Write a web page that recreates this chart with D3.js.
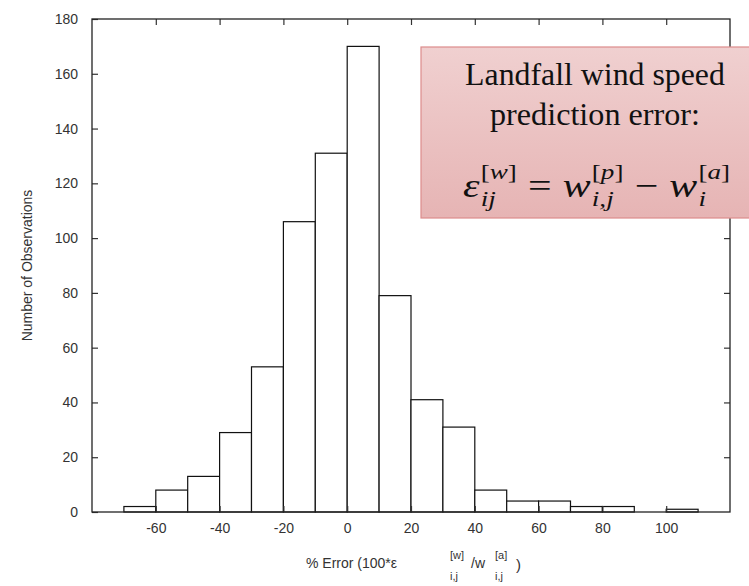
<!DOCTYPE html>
<html><head><meta charset="utf-8">
<script src="https://cdn.jsdelivr.net/npm/d3@7/dist/d3.min.js"></script>
<style>body{margin:0;background:#fff}svg{display:block}</style>
</head><body>
<svg id="c" width="749" height="586"></svg>
<script>
// ---- data ----
const binStarts = [-70,-60,-50,-40,-30,-20,-10,0,10,20,30,40,50,60,70,80,90,100];
const binWidth = 10;
const counts = [2,8,13,29,53,106,131,170,79,41,31,8,4,4,2,2,0,1];
const xTickValues = [-60,-40,-20,0,20,40,60,80,100];
const yTickValues = [0,20,40,60,80,100,120,140,160,180];
const xDomain = [-80,120];
const yDomain = [0,180];
const yTitle = "Number of Observations";
const boxLines = ["Landfall wind speed", "prediction error:"];

// ---- layout ----
const W = 749, H = 586;
const m = {left: 92, right: 19, top: 19, bottom: 74};
const svg = d3.select("#c");
const x = d3.scaleLinear().domain(xDomain).range([m.left, W - m.right]);
const y = d3.scaleLinear().domain(yDomain).range([H - m.bottom, m.top]);
const font = "'Liberation Sans', Arial, sans-serif";
const textCol = "#333";
const fmt = d => String(d);

// bars
svg.append("g").selectAll("rect").data(binStarts.map((s,i)=>({s, c: counts[i]})))
  .join("rect")
  .attr("x", d => x(d.s))
  .attr("width", d => x(d.s + binWidth) - x(d.s))
  .attr("y", d => y(d.c))
  .attr("height", d => y(0) - y(d.c))
  .attr("fill", "#fff").attr("stroke", "#111").attr("stroke-width", 1.2);

function styleAxis(g, showLabels) {
  g.select(".domain").remove();
  g.selectAll(".tick line").attr("stroke", "#333").attr("stroke-width", 1.2);
  g.selectAll(".tick text").attr("fill", textCol).style("font-family", font).style("font-size", "14px");
  if (!showLabels) g.selectAll(".tick text").remove();
}

svg.append("g").attr("transform", `translate(${m.left},0)`)
  .call(d3.axisLeft(y).tickValues(yTickValues).tickFormat(fmt).tickSizeInner(-6).tickSizeOuter(0).tickPadding(14))
  .call(g => styleAxis(g, true));
svg.append("g").attr("transform", `translate(${W - m.right},0)`)
  .call(d3.axisRight(y).tickValues(yTickValues.slice(1,-1)).tickSizeInner(-6).tickSizeOuter(0))
  .call(g => styleAxis(g, false));
svg.append("g").attr("transform", `translate(0,${H - m.bottom})`)
  .call(d3.axisBottom(x).tickValues(xTickValues).tickFormat(fmt).tickSizeInner(-6).tickSizeOuter(0).tickPadding(11))
  .call(g => styleAxis(g, true));
svg.append("g").attr("transform", `translate(0,${m.top})`)
  .call(d3.axisTop(x).tickValues(xTickValues).tickSizeInner(-6).tickSizeOuter(0))
  .call(g => styleAxis(g, false));

// frame
svg.append("rect").attr("x", m.left).attr("y", m.top)
  .attr("width", W - m.left - m.right).attr("height", H - m.top - m.bottom)
  .attr("fill", "none").attr("stroke", "#222").attr("stroke-width", 1.3);

// y title
svg.append("text").attr("transform", `translate(32,${(m.top + H - m.bottom)/2}) rotate(-90)`)
  .attr("text-anchor", "middle").attr("fill", textCol)
  .style("font-family", font).style("font-size", "14px").text(yTitle);

// x title (gnuplot-style enhanced text)
const xt = svg.append("g").attr("fill", textCol).style("font-family", font);
const xPieces = [
  {t: "% Error (100*\u03b5", x: 306, y: 568, s: 14},
  {t: "[w]", x: 450, y: 559, s: 11},
  {t: "i,j", x: 450, y: 580, s: 11},
  {t: "/w", x: 471, y: 568, s: 14},
  {t: "[a]", x: 495, y: 559, s: 11},
  {t: "i,j", x: 495, y: 580, s: 11},
  {t: ")", x: 516, y: 570, s: 15}
];
xPieces.forEach(p => xt.append("text").attr("x", p.x).attr("y", p.y).style("font-size", p.s + "px").text(p.t));

// annotation box
const defs = svg.append("defs");
const grad = defs.append("linearGradient").attr("id", "bg").attr("x1", 0).attr("y1", 0).attr("x2", 0).attr("y2", 1);
grad.append("stop").attr("offset", "0%").attr("stop-color", "#f0d0d0");
grad.append("stop").attr("offset", "100%").attr("stop-color", "#e6b4b4");
svg.append("rect").attr("x", 421).attr("y", 47).attr("width", 340).attr("height", 171)
  .attr("fill", "url(#bg)").attr("stroke", "#dc8c8c").attr("stroke-width", 1.2);

const serif = "'Liberation Serif', 'Times New Roman', serif";
const boxCx = 595;
const lineSpecs = [{w: 260, y: 85}, {w: 210, y: 125}];
boxLines.forEach((t, i) => {
  const el = svg.append("text").attr("x", boxCx).attr("y", lineSpecs[i].y).attr("text-anchor", "middle")
    .attr("fill", "#111").style("font-family", serif).style("font-size", "28px").text(t);
  const len = el.node().getComputedTextLength();
  el.style("font-size", (28 * lineSpecs[i].w / len) + "px");
});

// equation
const eq = svg.append("g").attr("fill", "#111").style("font-family", serif);
const base = 34, small = 22, baseY = 197;
const parts = [
  {b: "\u03b5", sup: "w", sub: "ij"},
  {op: "="},
  {b: "w", sup: "p", sub: "i,j"},
  {op: "\u2212"},
  {b: "w", sup: "a", sub: "i"}
];
let cx = 0;
parts.forEach(p => {
  if (p.op) {
    cx += 9;
    const t = eq.append("text").attr("x", cx).attr("y", baseY).style("font-size", base + "px").text(p.op);
    cx += t.node().getComputedTextLength() + 9;
  } else {
    const t = eq.append("text").attr("x", cx).attr("y", baseY).style("font-size", base + "px").style("font-style", "italic").text(p.b);
    cx += t.node().getComputedTextLength() + 1;
    const s1 = eq.append("text").attr("x", cx).attr("y", baseY - 18).style("font-size", small + "px");
    s1.append("tspan").text("[");
    s1.append("tspan").style("font-style", "italic").text(p.sup);
    s1.append("tspan").text("]");
    const s2 = eq.append("text").attr("x", cx).attr("y", baseY + 9).style("font-size", small + "px").style("font-style", "italic").text(p.sub);
    cx += Math.max(s1.node().getComputedTextLength(), s2.node().getComputedTextLength());
  }
});
const eqW = cx, target = 267;
const k = target / eqW;
eq.attr("transform", `translate(463,${baseY}) scale(${k},1) translate(0,${-baseY})`);
</script>
</body></html>
